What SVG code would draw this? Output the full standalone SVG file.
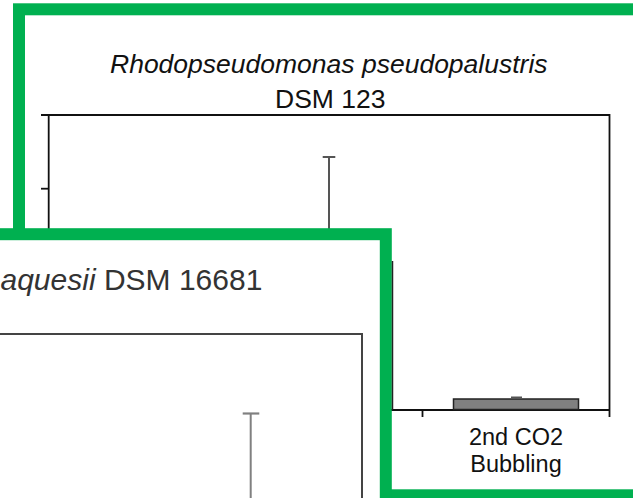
<svg xmlns="http://www.w3.org/2000/svg" width="633" height="498" viewBox="0 0 633 498">
  <style>
    .frame { fill: #ffffff; stroke: #00B050; stroke-width: 12; }
    .axis { stroke: #111111; stroke-width: 1.8; fill: none; }
    .err { stroke: #555555; stroke-width: 2; fill: none; }
    .lbl { font-family: "Liberation Sans", Arial, sans-serif; fill: #111111; }
    .lbl2 { font-family: "Liberation Sans", Arial, sans-serif; fill: #333333; }
  </style>
  <rect width="633" height="498" fill="#ffffff"/>

  <g id="panel-top">
    <rect class="frame" x="19" y="9.3" width="700" height="486"/>
    <text class="lbl" x="110" y="73" font-size="26.5" font-style="italic">Rhodopseudomonas pseudopalustris</text>
    <text class="lbl" x="275" y="107.5" font-size="26.5">DSM 123</text>
    <line class="axis" x1="41" y1="115" x2="610" y2="115"/>
    <line class="axis" x1="48.7" y1="114" x2="48.7" y2="410"/>
    <line class="axis" x1="609.5" y1="114" x2="609.5" y2="417"/>
    <line class="axis" x1="41" y1="188.7" x2="48.7" y2="188.7"/>
    <line class="axis" x1="48.7" y1="410" x2="610" y2="410"/>
    <line class="axis" x1="422.5" y1="410" x2="422.5" y2="417"/>
    <line class="err" x1="329" y1="157" x2="329" y2="240"/>
    <line class="err" x1="322.7" y1="157" x2="335.3" y2="157"/>
    <rect x="453.5" y="399" width="125" height="10.5" fill="#808080" stroke="#222222" stroke-width="1.5"/>
    <line class="err" x1="516" y1="397.5" x2="516" y2="399"/>
    <line class="err" x1="511" y1="397.5" x2="522" y2="397.5" stroke-width="1.2"/>
    <text class="lbl" x="516" y="445" font-size="23.5" text-anchor="middle">2nd CO2</text>
    <text class="lbl" x="516" y="471.7" font-size="23.5" text-anchor="middle">Bubbling</text>
  </g>

  <g id="panel-bottom">
    <rect class="frame" x="-20" y="234.2" width="405.8" height="300"/>
    <line x1="392.5" y1="261" x2="392.5" y2="410" stroke="#222222" stroke-width="1.5"/>
    <text class="lbl2" x="0.5" y="290" font-size="30"><tspan font-style="italic">aquesii</tspan> DSM 16681</text>
    <path d="M0 334 H362 V498" fill="none" stroke="#444444" stroke-width="2"/>
    <line x1="250.7" y1="413.5" x2="250.7" y2="498" stroke="#808080" stroke-width="2"/>
    <line x1="242.7" y1="413.5" x2="259.3" y2="413.5" stroke="#808080" stroke-width="2.2"/>
  </g>
</svg>
